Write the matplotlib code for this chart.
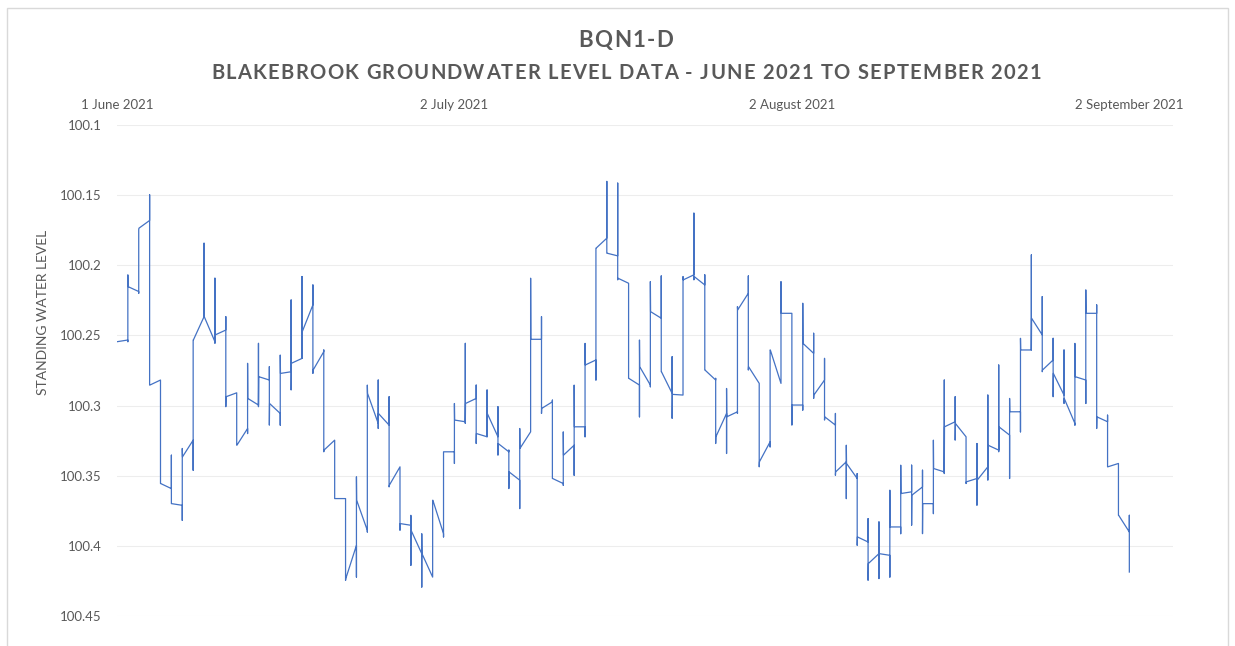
# Nivel de agua BQN1-D (Blakebrook) - junio a septiembre 2021
import numpy as np
import pandas as pd
import matplotlib
matplotlib.use("Agg")
import matplotlib.pyplot as plt
from matplotlib.patches import Rectangle

# ==============================================================
# Datos
# ==============================================================

start_date = "2021-06-01"

# nivel al principio y al final de cada día (día 0 = 1 junio)
seg_start = [100.2545, 100.2153, 100.1737, 100.2854, 100.3555, 100.3698, 100.3365, 100.2533,
             100.2367, 100.2497, 100.2937, 100.3282, 100.2949, 100.2794, 100.2985, 100.2771,
             100.2699, 100.2474, 100.2747, 100.3317, 100.3662, 100.4232, 100.3674, 100.2913,
             100.3056, 100.3567, 100.3840, 100.3888, 100.4054, 100.3674, 100.3329, 100.3103,
             100.2985, 100.3199, 100.3056, 100.3270, 100.3472, 100.3305, 100.2528, 100.3020,
             100.3519, 100.3353, 100.3151, 100.2711, 100.1879, 100.1915, 100.2093, 100.2806,
             100.2723, 100.2331, 100.2759, 100.2920, 100.2105, 100.2081, 100.2747, 100.3222,
             100.3080, 100.2319, 100.2723, 100.3400, 100.2604, 100.2343, 100.2996, 100.2557,
             100.2925, 100.3080, 100.3472, 100.3412, 100.3935, 100.4125, 100.4054, 100.3864,
             100.3626, 100.3638, 100.3698, 100.3448, 100.3151, 100.3127, 100.3543, 100.3531,
             100.3282, 100.3151, 100.3044, 100.2604, 100.2378, 100.2747, 100.2771, 100.2949,
             100.2794, 100.2343, 100.3080, 100.3436, 100.3781]
seg_end = [100.2533, 100.2188, 100.1682, 100.2818, 100.3591, 100.3710, 100.3246, 100.2367,
           100.2545, 100.2462, 100.2909, 100.3163, 100.2996, 100.2818, 100.3056, 100.2759,
           100.2664, 100.2283, 100.2616, 100.3246, 100.3662, 100.3995, 100.3888, 100.3127,
           100.3139, 100.3436, 100.3852, 100.4054, 100.4221, 100.3912, 100.3329, 100.3115,
           100.2949, 100.3222, 100.3222, 100.3329, 100.3531, 100.3187, 100.2528, 100.2973,
           100.3555, 100.3282, 100.3151, 100.2675, 100.1808, 100.1934, 100.2129, 100.2854,
           100.2854, 100.2378, 100.2913, 100.2925, 100.2069, 100.2141, 100.2818, 100.3056,
           100.3044, 100.2200, 100.2842, 100.3258, 100.2842, 100.2343, 100.2996, 100.2628,
           100.2818, 100.3139, 100.3400, 100.3519, 100.3971, 100.4054, 100.4066, 100.3864,
           100.3614, 100.3579, 100.3698, 100.3472, 100.3115, 100.3222, 100.3519, 100.3436,
           100.3317, 100.3210, 100.3044, 100.2604, 100.2497, 100.2675, 100.2925, 100.3127,
           100.2818, 100.2343, 100.3115, 100.3412, 100.3900]

# saltos a medianoche (día 1 .. 93): nivel mínimo y máximo alcanzado
spike_top = [100.2069, 100.1748, 100.1499, 100.2818, 100.3353, 100.3305, 100.2533, 100.1844,
             100.2093, 100.2367, 100.2909, 100.2699, 100.2557, 100.2723, 100.2640, 100.2248,
             100.2081, 100.2141, 100.2604, 100.3246, 100.3662, 100.3507, 100.2854, 100.2818,
             100.2937, 100.3436, 100.3781, 100.3912, 100.3674, 100.3329, 100.2985, 100.2557,
             100.2854, 100.2889, 100.3008, 100.3317, 100.3163, 100.2093, 100.2367, 100.2961,
             100.3187, 100.2854, 100.2557, 100.1879, 100.1404, 100.1416, 100.2129, 100.2533,
             100.2117, 100.2077, 100.2652, 100.2081, 100.1630, 100.2069, 100.2806, 100.2878,
             100.2295, 100.2077, 100.2854, 100.2604, 100.2117, 100.2343, 100.2271, 100.2485,
             100.2664, 100.3056, 100.3282, 100.3484, 100.3805, 100.3828, 100.3602, 100.3424,
             100.3424, 100.3460, 100.3246, 100.2818, 100.2937, 100.3222, 100.3270, 100.2925,
             100.2711, 100.2949, 100.2521, 100.1927, 100.2224, 100.2521, 100.2604, 100.2557,
             100.2176, 100.2283, 100.3068, 100.3412, 100.3781]
spike_bottom = [100.2545, 100.2200, 100.2854, 100.3555, 100.3698, 100.3817, 100.3460, 100.2367,
                100.2557, 100.3008, 100.3282, 100.3199, 100.3008, 100.3139, 100.3139, 100.2889,
                100.2664, 100.2771, 100.3329, 100.3662, 100.4244, 100.4221, 100.3900, 100.3163,
                100.3579, 100.3888, 100.4137, 100.4292, 100.4221, 100.3935, 100.3412, 100.3127,
                100.3270, 100.3222, 100.3353, 100.3591, 100.3733, 100.3187, 100.3056, 100.3519,
                100.3567, 100.3496, 100.3222, 100.2818, 100.1915, 100.2105, 100.2806, 100.3080,
                100.2866, 100.2759, 100.3091, 100.2925, 100.2105, 100.2747, 100.3270, 100.3341,
                100.3056, 100.2747, 100.3436, 100.3294, 100.2842, 100.3139, 100.3032, 100.2949,
                100.3103, 100.3496, 100.3662, 100.3995, 100.4244, 100.4232, 100.4221, 100.3912,
                100.3852, 100.3912, 100.3769, 100.3484, 100.3246, 100.3555, 100.3710, 100.3531,
                100.3329, 100.3519, 100.3187, 100.2604, 100.2759, 100.2937, 100.2985, 100.3139,
                100.2985, 100.3163, 100.3436, 100.3781, 100.4185]

tick_days = [0, 31, 62, 93]
tick_labels = ["1 June 2021", "2 July 2021", "2 August 2021", "2 September 2021"]
y_ticks = [100.1, 100.15, 100.2, 100.25, 100.3, 100.35, 100.4, 100.45]

title = "BQN1-D"
subtitle = "BLAKEBROOK GROUNDWATER LEVEL DATA - JUNE 2021 TO SEPTEMBER 2021"
y_title = "STANDING WATER LEVEL"

# ==============================================================
# Funciones auxiliares
# ==============================================================

W, H = 1235, 646


def tracked_text(fig, s, xc, y_base, tracking, **kw):
    """Texto centrado en xc (px) con espaciado extra entre letras."""
    r = fig.canvas.get_renderer()

    def width(txt):
        tt = fig.text(0, 0, txt, **kw)
        w = tt.get_window_extent(r).width
        tt.remove()
        return w

    w_ref = width("I")
    pos = [0.0] + [width(s[:i] + "I") - w_ref for i in range(1, len(s))]
    total = width(s) + tracking * (len(s) - 1)
    x0 = xc - total / 2
    for i, ch in enumerate(s):
        if ch == " ":
            continue
        fig.text((x0 + pos[i] + tracking * i) / W, 1 - y_base / H, ch,
                 ha="left", va="baseline", **kw)


# ==============================================================
# Construir la serie (tramo diario + salto vertical a medianoche)
# ==============================================================

t, v = [], []
for k in range(len(seg_start)):
    if k > 0:
        top, bot = spike_top[k - 1], spike_bottom[k - 1]
        if abs(seg_start[k] - top) < abs(seg_start[k] - bot):
            t += [k, k]
            v += [bot, top]
        else:
            t += [k, k]
            v += [top, bot]
    t += [k + 0.02, k + 1]
    v += [seg_start[k], seg_end[k]]
last = len(seg_start)
t += [last, last]
v += [spike_top[-1], spike_bottom[-1]]

t0 = pd.Timestamp(start_date)
df = pd.DataFrame({"fecha": t0 + pd.to_timedelta(t, unit="D"), "nivel": v})

# ==============================================================
# Gráfica
# ==============================================================

gray = "#595959"
plt.rcParams["font.family"] = ["Lato", "DejaVu Sans"]

fig = plt.figure(figsize=(W / 100, H / 100), dpi=100)
fig.patches.append(Rectangle((0.006, -0.01), 0.988, 0.997, transform=fig.transFigure,
                             fill=False, edgecolor="#D9D9D9", linewidth=1.0))

ax = fig.add_axes([0.0947, 0.046, 0.855, 0.761])
ax.plot(df["fecha"], df["nivel"], color="#4472C4", linewidth=0.9)

ax.set_ylim(100.45, 100.1)
ax.set_yticks(y_ticks)
ax.set_yticklabels([f"{y:g}" for y in y_ticks])
ax.set_xlim(t0, t0 + pd.Timedelta(days=97))
ax.set_xticks([t0 + pd.Timedelta(days=d) for d in tick_days])
ax.set_xticklabels(tick_labels)
ax.xaxis.tick_top()

ax.grid(axis="y", color="#EDEDED", linewidth=0.8)
ax.grid(axis="x", visible=False)
for s in ax.spines.values():
    s.set_visible(False)
ax.tick_params(axis="both", length=0, colors=gray, labelsize=9.5)
ax.tick_params(axis="y", pad=11)
ax.tick_params(axis="x", pad=10)

fig.text(43 / W, 1 - 312 / H, y_title, rotation=90,
         ha="center", va="center", color=gray, fontsize=10)

tracked_text(fig, title, 626, 47, 1.5, color=gray, fontsize=16, fontweight="bold")
tracked_text(fig, subtitle, 626, 79, 1.3, color=gray, fontsize=14.5, fontweight="bold")

fig.savefig("out.png", dpi=100)
